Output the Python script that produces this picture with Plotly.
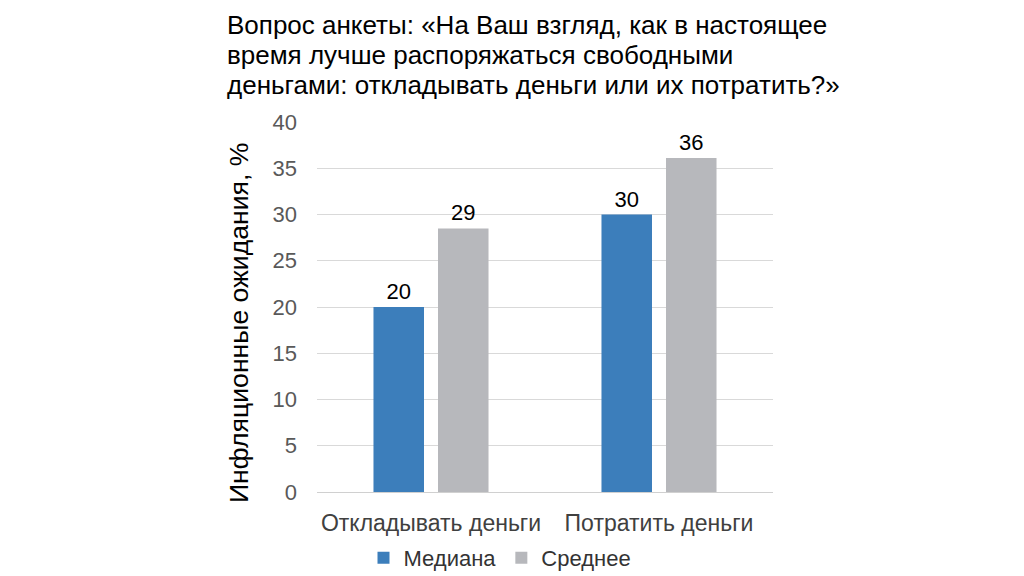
import plotly.graph_objects as go

categories = ["Откладывать деньги", "Потратить деньги"]
median_vals = [20.0, 30.0]
mean_vals = [28.5, 36.1]
median_labels = ["20", "30"]
mean_labels = ["29", "36"]
y_ticks = [0, 5, 10, 15, 20, 25, 30, 35, 40]
title_lines = [
    "Вопрос анкеты: «На Ваш взгляд, как в настоящее",
    "время лучше распоряжаться свободными",
    "деньгами: откладывать деньги или их потратить?»",
]
y_title = "Инфляционные ожидания, %"

W, H = 1024, 576
FONT = "Liberation Sans, Arial, sans-serif"

fig = go.Figure()
fig.add_trace(go.Bar(
    name="Медиана", x=categories, y=median_vals,
    marker=dict(color="#3c7ebb", line=dict(width=0)),
    text=median_labels, textposition="outside", cliponaxis=False,
    textfont=dict(size=22, color="#000000", family=FONT),
))
fig.add_trace(go.Bar(
    name="Среднее", x=categories, y=mean_vals,
    marker=dict(color="#b7b8bc", line=dict(width=0)),
    text=mean_labels, textposition="outside", cliponaxis=False,
    textfont=dict(size=22, color="#000000", family=FONT),
))

x0, x1 = 317, 773
yt, yb = 122, 492
fig.update_layout(
    width=W, height=H,
    margin=dict(l=0, r=0, t=0, b=0, autoexpand=False),
    paper_bgcolor="white", plot_bgcolor="white",
    font=dict(family=FONT, color="#000000"),
    barmode="group", bargap=0.434, bargroupgap=0.217,
    showlegend=True,
    legend=dict(
        orientation="h", x=500 / W, xanchor="center", y=1 - 558 / H, yanchor="middle",
        font=dict(size=22, color="#333333", family=FONT),
        itemsizing="constant", traceorder="normal",
    ),
    xaxis=dict(
        domain=[x0 / W, x1 / W], showgrid=False, showline=False, ticks="",
        automargin=False, ticklabelstandoff=15,
        tickfont=dict(size=23, color="#404040", family=FONT),
    ),
    yaxis=dict(
        domain=[1 - yb / H, 1 - yt / H], range=[0, 40], tickvals=y_ticks,
        showgrid=True, gridcolor="#d9d9d9", gridwidth=1,
        zeroline=True, zerolinecolor="#d0d0d0", zerolinewidth=1,
        showline=False, ticks="", ticklen=0, automargin=False,
        ticklabelstandoff=19,
        tickfont=dict(size=22, color="#595959", family=FONT),
    ),
)

for i, line in enumerate(title_lines):
    fig.add_annotation(
        text=line, xref="paper", yref="paper",
        x=225 / W, y=1 - (25 + 30 * i) / H, xanchor="left", yanchor="middle", align="left",
        showarrow=False, font=dict(size=26, color="#000000", family=FONT),
    )
fig.add_annotation(
    text=y_title, xref="paper", yref="paper", textangle=-90,
    x=239 / W, y=1 - 323 / H, xanchor="center", yanchor="middle",
    showarrow=False, font=dict(size=26.6, color="#000000", family=FONT),
)

fig.write_html("out.html")
